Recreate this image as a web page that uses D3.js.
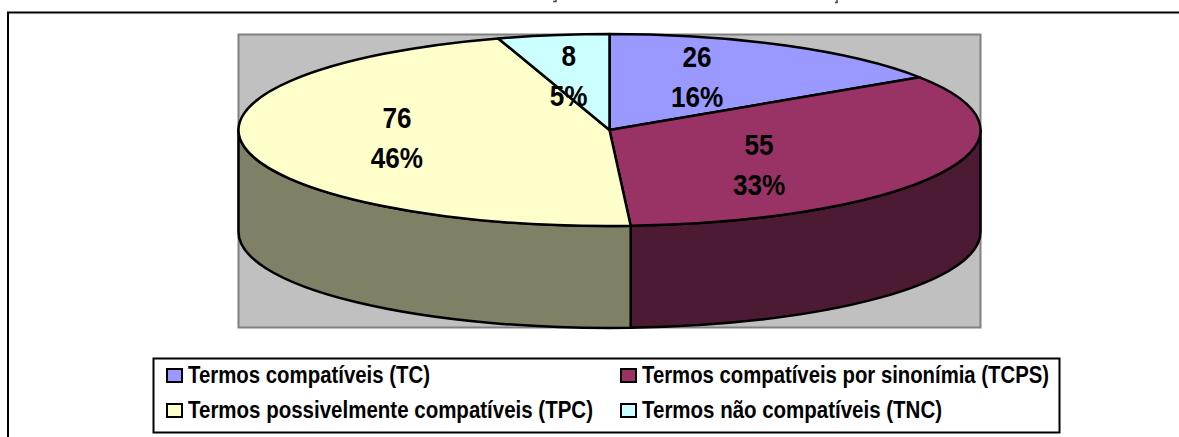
<!DOCTYPE html>
<html><head><meta charset="utf-8">
<script src="https://cdn.jsdelivr.net/npm/d3@7"></script>
<style>html,body{margin:0;background:#fff}svg{display:block}</style></head>
<body><svg id="c" width="1179" height="437"></svg>
<script>
const categories=["Termos compatíveis (TC)","Termos compatíveis por sinonímia (TCPS)","Termos possivelmente compatíveis (TPC)","Termos não compatíveis (TNC)"];
const values=[26,55,76,8];
const percents=["16%","33%","46%","5%"];
const topColors=["#9999ff","#993366","#ffffcc","#ccffff"];
const wallColors=["#4d4d80","#4d1a33","#808066","#668080"];
const labelOffsets=[[0.236,-0.552],[0.403,0.365],[-0.573,0.078],[-0.11,-0.562]];
const legendBoxes=[[167,369],[621,369],[167,404],[621,404]];
const legendWidths=[242,407,405,300];

const svg=d3.select("#c");
const font="'Liberation Sans',Arial,sans-serif";
const cx=609.5,cy=130,rx=371,ry=96,depth=102;
const x=d3.scaleLinear().domain([-1,1]).range([cx-rx,cx+rx]);
const y=d3.scaleLinear().domain([-1,1]).range([cy-ry,cy+ry]);
const pie=d3.pie().sort(null).value(d=>d)(values);

// remnants of the title's descenders at the top edge of the picture
["M553,1.5H556V0","M835,2.5H837V0"].forEach(d=>{
  svg.append("path").attr("d",d).attr("fill","none").attr("stroke","#444").attr("stroke-width",1.5);
});
// outer frame
svg.append("path").attr("d","M8,437V12.5H1179").attr("fill","none").attr("stroke","#000").attr("stroke-width",2);
// plot area
svg.append("rect").attr("x",238.5).attr("y",34.5).attr("width",742).attr("height",293)
  .attr("fill","#c0c0c0").attr("stroke","#808080").attr("stroke-width",2);

const px=a=>x(Math.sin(a)), py=a=>y(-Math.cos(a));
function wedge(a0,a1){
  const large=(a1-a0)>Math.PI?1:0;
  return `M${cx},${cy}L${px(a0)},${py(a0)}A${rx},${ry} 0 ${large} 1 ${px(a1)},${py(a1)}Z`;
}
function wall(a0,a1){
  return `M${px(a0)},${py(a0)}A${rx},${ry} 0 0 1 ${px(a1)},${py(a1)}L${px(a1)},${py(a1)+depth}A${rx},${ry} 0 0 0 ${px(a0)},${py(a0)+depth}Z`;
}
const g=svg.append("g").attr("stroke","#000").attr("stroke-width",2.5).attr("stroke-linejoin","round");
pie.forEach((d,i)=>{
  const a0=Math.max(d.startAngle,Math.PI/2),a1=Math.min(d.endAngle,Math.PI*1.5);
  if(a1>a0) g.append("path").attr("d",wall(a0,a1)).attr("fill",wallColors[i]);
});
pie.forEach((d,i)=>{
  g.append("path").attr("d",wedge(d.startAngle,d.endAngle)).attr("fill",topColors[i]);
});
// data labels
const sx=0.87;
function label(t,px0,py0,size){
  svg.append("text").attr("transform",`translate(${px0},${py0}) scale(${sx},1)`)
    .attr("text-anchor","middle").attr("font-family",font).attr("font-weight","bold")
    .attr("font-size",size).attr("fill","#000").text(t);
}
pie.forEach((d,i)=>{
  const lx=x(labelOffsets[i][0]),ly=y(labelOffsets[i][1]);
  label(values[i],lx,ly-9.6,30);
  label(percents[i],lx,ly+30.4,30);
});
// legend
svg.append("rect").attr("x",153.5).attr("y",358.5).attr("width",906).attr("height",74)
  .attr("fill","#fff").attr("stroke","#000").attr("stroke-width",2);
categories.forEach((c,i)=>{
  const [bx,by]=legendBoxes[i];
  svg.append("rect").attr("x",bx).attr("y",by).attr("width",15).attr("height",13)
    .attr("fill",topColors[i]).attr("stroke","#000").attr("stroke-width",2);
  svg.append("text").attr("x",bx+21).attr("y",by+14).attr("font-family",font).attr("font-weight","bold")
    .attr("font-size",23).attr("textLength",legendWidths[i]).attr("lengthAdjust","spacingAndGlyphs").attr("fill","#000").text(c);
});
</script></body></html>
